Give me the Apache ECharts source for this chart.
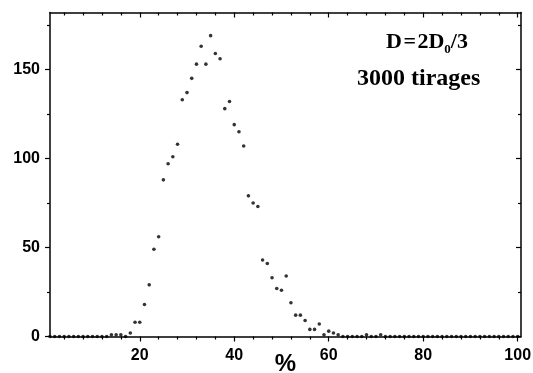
<!DOCTYPE html>
<html>
<head>
<meta charset="utf-8">
<script src="https://cdn.jsdelivr.net/npm/echarts@6/dist/echarts.min.js"></script>
<style>
html,body{margin:0;padding:0;background:#fff;}
#chart{width:533px;height:373px;}
</style>
</head>
<body>
<div id="chart"></div>
<script>
// Percent bins (x) and number of draws per bin (y)
const pct = [
  1,2,3,4,5,6,7,8,9,10,
  11,12,13,14,15,16,17,18,19,20,
  21,22,23,24,25,26,27,28,29,30,
  31,32,33,34,35,36,37,38,39,40,
  41,42,43,44,45,46,47,48,49,50,
  51,52,53,54,55,56,57,58,59,60,
  61,62,63,64,65,66,67,68,69,70,
  71,72,73,74,75,76,77,78,79,80,
  81,82,83,84,85,86,87,88,89,90,
  91,92,93,94,95,96,97,98,99,100
];
const counts = [
  0,0,0,0,0,0,0,0,0,0,
  0,0,0,1,1,1,0,2,8,8,
  18,29,49,56,88,97,101,108,133,137,
  145,153,163,153,169,159,156,128,132,119,
  115,107,79,75,73,43,41,33,27,26,
  34,19,12,12,9,4,4,7,1,3,
  2,1,0,0,0,0,0,1,0,0,
  1,0,0,0,0,0,0,0,0,0,
  0,0,0,0,0,0,0,0,0,0,
  0,0,0,0,0,0,0,0,0,0
];
const xTickLabels = [20, 40, 60, 80, 100];
const xMinorTicks = [4, 8, 12, 16, 24, 28, 32, 36, 44, 48, 52, 56, 64, 68, 72, 76, 84, 88, 92, 96];
const yTickLabels = [0, 50, 100, 150];
const yMinorTicks = [25, 75, 125, 175];
const xTitle = '%';
const line1 = ['D', '=', '2D', '0', '/3'];
const line2 = '3000 tirages';

const X_MIN = 1, X_MAX = 100.7, Y_MIN = 0, Y_MAX = 182;
const sans = 'Liberation Sans';
const serif = 'Liberation Serif';
const black = '#000';

function xAxisDef(pos, values, len, inside, withLine, withLabel) {
  return {
    type: 'value', position: pos, min: X_MIN, max: X_MAX,
    axisLine: { show: withLine, onZero: false, lineStyle: { color: black, width: 1.5 } },
    axisTick: { show: true, inside: inside, length: len, customValues: values, lineStyle: { color: black, width: 1.2 } },
    axisLabel: withLabel ? { show: true, customValues: xTickLabels, color: black, fontFamily: sans, fontWeight: 'bold', fontSize: 16, margin: 11 } : { show: false },
    splitLine: { show: false }
  };
}
function yAxisDef(pos, values, len, inside, withLine, withLabel) {
  return {
    type: 'value', position: pos, min: Y_MIN, max: Y_MAX,
    axisLine: { show: withLine, onZero: false, lineStyle: { color: black, width: 1.5 } },
    axisTick: { show: true, inside: inside, length: len, customValues: values, lineStyle: { color: black, width: 1.2 } },
    axisLabel: withLabel ? { show: true, customValues: yTickLabels, color: black, fontFamily: sans, fontWeight: 'bold', fontSize: 16, margin: 10 } : { show: false },
    splitLine: { show: false }
  };
}

const bottomMain = xAxisDef('bottom', xTickLabels, 5, false, true, true);
bottomMain.name = xTitle;
bottomMain.nameLocation = 'middle';
bottomMain.nameGap = 16;
bottomMain.nameMoveOverlap = false;
bottomMain.nameTextStyle = { color: black, fontFamily: sans, fontWeight: 'bold', fontSize: 24, verticalAlign: 'top' };

const chart = echarts.init(document.getElementById('chart'), null, { renderer: 'canvas' });
chart.setOption({
  backgroundColor: '#fff',
  animation: false,
  grid: { left: 50, right: 12, top: 12.5, bottom: 36.5, containLabel: false, outerBoundsMode: 'none' },
  xAxis: [
    bottomMain,
    xAxisDef('bottom', xMinorTicks, 3, false, false, false),
    xAxisDef('top', xTickLabels, 5, true, true, false),
    xAxisDef('top', xMinorTicks, 3, true, false, false)
  ],
  yAxis: [
    yAxisDef('left', yTickLabels, 5, false, true, true),
    yAxisDef('left', yMinorTicks, 3, false, false, false),
    yAxisDef('right', yTickLabels, 5, true, true, false),
    yAxisDef('right', yMinorTicks, 3, true, false, false)
  ],
  graphic: [
    {
      type: 'text', left: 386, top: 31,
      style: {
        text: '{a|' + line1[0] + '}{sp| }{a|' + line1[1] + '}{sp| }{a|' + line1[2] + '}{s|' + line1[3] + '}{a|' + line1[4] + '}',
        rich: {
          a: { fontFamily: serif, fontWeight: 'bold', fontSize: 22, lineHeight: 28, fill: black },
          sp: { fontFamily: serif, fontSize: 6, lineHeight: 28, fill: black },
          s: { fontFamily: serif, fontWeight: 'bold', fontSize: 13, lineHeight: 18, verticalAlign: 'bottom', fill: black }
        }
      }
    },
    {
      type: 'text', left: 357, top: 67,
      style: { text: line2, fontFamily: serif, fontWeight: 'bold', fontSize: 24, fill: black }
    }
  ],
  series: [{
    type: 'scatter',
    xAxisIndex: 0, yAxisIndex: 0,
    symbol: 'circle', symbolSize: 3.6,
    clip: false,
    itemStyle: { color: black },
    data: pct.map((p, i) => [p, counts[i]])
  }]
});
</script>
</body>
</html>
